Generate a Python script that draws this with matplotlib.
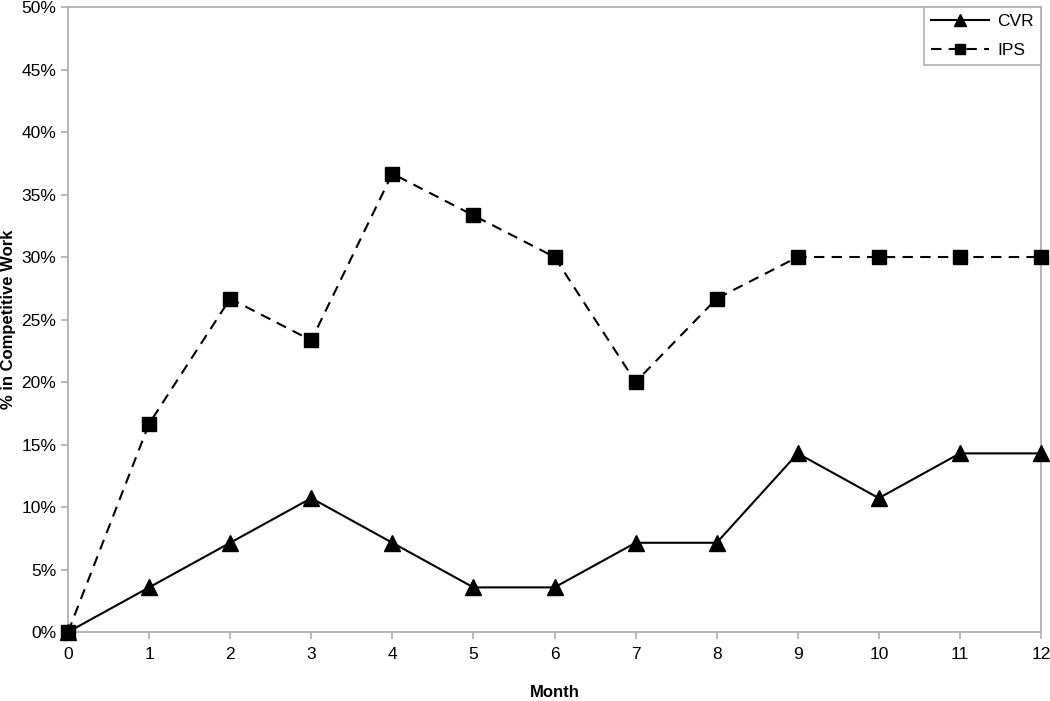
import matplotlib.pyplot as plt
from matplotlib.ticker import PercentFormatter

plt.rcParams['font.family'] = ['Liberation Sans', 'DejaVu Sans']

# =========================
# DATA
# =========================
months = [0, 1, 2, 3, 4, 5, 6, 7, 8, 9, 10, 11, 12]
cvr = [0, 3.57, 7.14, 10.71, 7.14, 3.57, 3.57, 7.14, 7.14, 14.29, 10.71, 14.29, 14.29]
ips = [0, 16.67, 26.67, 23.33, 36.67, 33.33, 30.0, 20.0, 26.67, 30.0, 30.0, 30.0, 30.0]

# =========================
# PLOT
# =========================
fig = plt.figure(figsize=(10.5, 7.01), dpi=100)
ax = fig.add_axes([0.0648, 0.0984, 0.9266, 0.8916])

ax.plot(months, cvr, color="black", lw=1.5, marker="^", ms=11,
        label="CVR", clip_on=False, zorder=3)
ax.plot(months, ips, color="black", lw=1.5, ls=(0, (5, 3.5)), marker="s", ms=9.5,
        label="IPS", clip_on=False, zorder=3)

ax.set_xlim(0, 12)
ax.set_ylim(0, 50)
ax.set_xticks(months)
ax.set_yticks(range(0, 51, 5))
ax.yaxis.set_major_formatter(PercentFormatter(decimals=0))

for s in ax.spines.values():
    s.set_color("#b0b0b0")
    s.set_linewidth(1.3)
ax.tick_params(axis="both", colors="#b0b0b0", labelcolor="black",
               labelsize=12.5, length=5, width=1.2)
ax.tick_params(axis="x", pad=6)

ax.set_xlabel("Month", fontsize=12, fontweight="bold", labelpad=16)
ax.set_ylabel("% in Competitive Work", fontsize=12, fontweight="bold", labelpad=4)

leg = ax.legend(loc="upper right", fontsize=12.5, fancybox=False, framealpha=1,
                borderaxespad=0, handlelength=3.3, handletextpad=0.5,
                borderpad=0.4, labelspacing=0.8, markerscale=0.75)
leg.get_frame().set_edgecolor("#b0b0b0")
leg.get_frame().set_linewidth(1.2)

plt.savefig("out.png", dpi=100)
